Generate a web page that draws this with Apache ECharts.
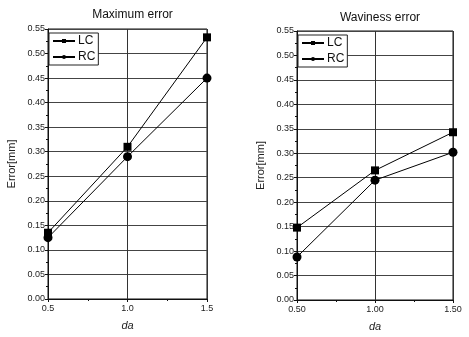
<!DOCTYPE html>
<html>
<head>
<meta charset="utf-8">
<script src="https://cdn.jsdelivr.net/npm/echarts@6/dist/echarts.min.js"></script>
<style>
  html, body { margin: 0; padding: 0; background: #fff; }
  #chart { width: 469px; height: 337px; }
</style>
</head>
<body>
<div id="chart"></div>
<script>
// x positions (da)
const da = [0.5, 1.0, 1.5];

// Maximum error
const maxLC = [0.135, 0.31, 0.533];
const maxRC = [0.125, 0.29, 0.45];

// Waviness error
const wavLC = [0.148, 0.265, 0.343];
const wavRC = [0.088, 0.245, 0.302];

const titles = ['Maximum error', 'Waviness error'];
const xDigits = [1, 2];

const pairs = (ys) => da.map((x, i) => [x, ys[i]]);

const font = 'Liberation Sans, Arial, sans-serif';

const grids = [
    { left: 48, top: 29, width: 159, height: 270 },
    { left: 297, top: 31, width: 156, height: 271 }
];

const xAxis = grids.map((g, i) => ({
    type: 'value',
    gridIndex: i,
    min: 0.5,
    max: 1.5,
    interval: 0.5,
    name: 'da',
    nameLocation: 'middle',
    nameGap: 21,
    nameTextStyle: { fontFamily: font, fontSize: 11, fontStyle: 'italic', color: '#222' },
    axisLine: { lineStyle: { color: '#111', width: 1 } },
    axisTick: { inside: false, length: 3, lineStyle: { color: '#111' } },
    minorTick: { show: true, splitNumber: 2, length: 2, lineStyle: { color: '#111' } },
    axisLabel: {
        fontFamily: font, fontSize: 9, color: '#222', margin: 5,
        formatter: v => v.toFixed(xDigits[i])
    },
    splitLine: { show: true, lineStyle: { color: '#333', width: 1 } }
}));

const yAxis = grids.map((g, i) => ({
    type: 'value',
    gridIndex: i,
    min: 0,
    max: 0.55,
    interval: 0.05,
    name: 'Error[mm]',
    nameLocation: 'middle',
    nameGap: 31,
    nameTextStyle: { fontFamily: font, fontSize: 11, color: '#222' },
    axisLine: { show: true, lineStyle: { color: '#111', width: 1 } },
    axisTick: { show: true, inside: false, length: 3, lineStyle: { color: '#111' } },
    minorTick: { show: true, splitNumber: 2, length: 2, lineStyle: { color: '#111' } },
    axisLabel: {
        fontFamily: font, fontSize: 9, color: '#222', margin: 3,
        formatter: v => v.toFixed(2)
    },
    splitLine: { show: true, lineStyle: { color: '#444', width: 1 } }
}));

const data = [[maxLC, maxRC], [wavLC, wavRC]];

const series = [];
data.forEach((d, i) => {
    series.push({
        name: 'LC', type: 'line', xAxisIndex: i, yAxisIndex: i,
        data: pairs(d[0]), symbol: 'rect', symbolSize: 8,
        clip: false,
        itemStyle: { color: '#000' },
        lineStyle: { color: '#000', width: 1 }
    });
    series.push({
        name: 'RC', type: 'line', xAxisIndex: i, yAxisIndex: i,
        data: pairs(d[1]), symbol: 'circle', symbolSize: 9,
        clip: false,
        itemStyle: { color: '#000' },
        lineStyle: { color: '#000', width: 1 }
    });
});

const legendPos = [
    { left: 49, top: 33 },
    { left: 298, top: 35 }
];

const option = {
    backgroundColor: '#fff',
    animation: false,
    title: titles.map((t, i) => ({
        text: t,
        left: grids[i].left + grids[i].width / 2,
        textAlign: 'center',
        top: i === 0 ? 4 : 7,
        textStyle: { fontFamily: font, fontSize: 12, fontWeight: 'normal', color: '#111' }
    })),
    grid: grids.map(g => ({
        left: g.left, top: g.top, width: g.width, height: g.height,
        show: true, borderColor: '#111', borderWidth: 1, backgroundColor: 'transparent'
    })),
    legend: legendPos.map((p, i) => ({
        left: p.left,
        top: p.top,
        orient: 'vertical',
        data: ['LC', 'RC'],
        itemWidth: 22,
        itemHeight: 5,
        itemGap: 4,
        padding: [2, 3, 2, 3],
        borderColor: '#222',
        borderWidth: 1,
        backgroundColor: '#fff',
        textStyle: { fontFamily: font, fontSize: 12, color: '#111', padding: [0, 0, 0, -2] },
        selectedMode: false
    })),
    xAxis: xAxis,
    yAxis: yAxis,
    series: series
};

const chart = echarts.init(document.getElementById('chart'));
chart.setOption(option);
</script>
</body>
</html>
